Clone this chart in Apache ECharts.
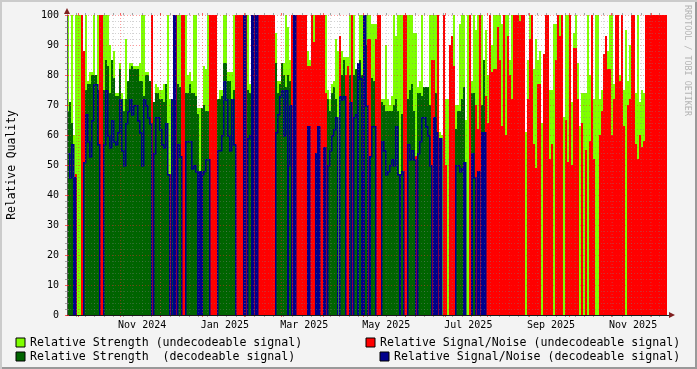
<!DOCTYPE html>
<html><head><meta charset="utf-8">
<style>html,body{margin:0;padding:0;background:#f3f3f3}#c{width:697px;height:369px}</style>
<script src="https://cdn.jsdelivr.net/npm/echarts@6/dist/echarts.min.js"></script>
</head><body><div id="c"></div>
<script>
// Each entry is one chart column (about 1.5 days per column).
const strengthUndecoded = [
100,71,100,60,100,100,100,100,88,100,
78,81,81,100,78,100,100,100,100,100,
100,90,85,88,74,74,84,74,72,92,
78,84,84,83,83,83,84,100,100,81,
81,78,100,71,77,76,75,75,77,77,
100,72,72,100,100,100,100,100,100,100,
80,81,78,100,100,69,69,69,83,82,
100,100,100,100,100,72,75,75,100,100,
81,81,81,100,100,100,100,100,100,100,
100,77,100,100,100,100,100,100,100,100,
100,100,100,100,94,78,78,84,84,100,
96,85,100,100,100,100,100,100,100,100,
88,85,100,100,100,100,100,100,100,100,
75,72,77,78,92,88,93,88,86,86,
86,100,100,100,82,84,100,100,100,100,
100,100,97,97,97,100,100,72,72,90,
72,70,73,100,93,100,100,100,100,100,
100,100,100,94,94,76,78,100,76,76,
76,100,100,100,100,100,61,60,100,72,
72,90,93,100,70,70,97,100,100,65,
100,100,78,100,95,100,100,100,85,95,
80,100,90,100,100,100,100,97,100,100,
100,85,100,100,100,100,100,100,100,61,
85,100,100,82,92,85,88,64,87,100,
100,75,75,97,97,100,100,100,66,100,
100,100,71,94,100,84,63,74,74,74,
100,80,100,72,100,100,72,75,87,93,
88,100,100,77,100,100,80,100,75,95,
78,90,100,100,74,100,71,75,74,100,
100,100,100,100,100,100,100,100,100,100];
const snUndecoded = [
0,0,0,0,47,0,0,100,88,0,
0,0,0,0,0,0,100,100,0,0,
0,0,0,0,0,0,0,0,0,0,
0,0,0,0,0,0,0,0,0,0,
0,0,100,0,0,0,0,0,0,0,
0,47,0,0,100,0,0,100,100,0,
0,0,0,0,0,0,0,0,0,0,
0,100,100,100,100,0,0,0,0,0,
0,0,0,0,100,100,100,100,0,100,
0,0,0,100,0,100,100,100,100,100,
100,100,100,100,0,0,0,0,0,0,
0,0,100,0,100,100,100,100,100,100,
83,83,100,91,100,100,100,100,100,74,
0,0,0,0,0,0,93,0,0,80,
83,0,100,0,0,0,0,0,0,0,
92,92,0,0,92,100,100,0,0,0,
0,0,0,0,0,0,47,0,100,100,
0,0,0,0,53,0,0,0,0,0,
0,0,85,85,0,100,0,0,100,50,
0,90,93,83,0,0,0,0,0,0,
0,100,0,0,70,62,100,0,0,73,
64,100,81,82,82,96,85,63,100,60,
93,80,72,100,100,100,98,100,100,0,
72,92,100,57,49,77,77,0,87,100,
100,52,57,0,85,100,93,100,0,65,
51,100,50,89,89,72,0,64,0,55,
0,58,100,52,0,0,60,68,87,93,
82,82,60,72,100,100,78,100,63,0,
70,72,100,100,57,52,60,56,58,100,
100,100,100,100,100,100,100,100,100,100];
const strengthDecoded = [
68,71,64,46,0,0,0,0,51,75,
77,77,80,80,80,75,0,0,75,85,
83,74,85,79,73,73,82,72,68,72,
78,82,83,82,82,82,78,78,73,80,
80,78,0,71,74,74,72,72,71,77,
47,0,72,0,0,77,76,0,0,74,
74,77,74,74,73,67,47,69,70,68,
68,0,0,0,0,72,72,73,84,84,
78,78,72,75,0,0,0,0,0,0,
75,74,0,0,0,0,0,0,0,0,
0,0,0,0,84,74,77,84,80,76,
80,78,0,0,0,0,0,0,0,0,
63,0,0,0,54,63,0,0,56,0,
72,68,74,76,72,0,73,80,85,0,
0,80,0,80,82,84,85,80,100,90,
0,53,79,78,0,0,0,71,70,68,
68,68,68,70,72,68,47,67,0,0,
72,75,77,68,0,74,74,73,76,76,
76,70,0,66,74,0,59,0,0,0,
0,0,0,0,62,68,68,72,76,0,
0,0,74,74,0,48,0,70,85,0,
0,0,0,0,0,0,0,0,0,0,
0,0,0,0,0,0,0,0,0,0,
0,0,0,0,0,0,0,0,0,0,
0,0,0,0,0,0,0,0,0,0,
0,0,0,0,0,0,0,0,0,0,
0,0,0,0,0,0,0,0,0,0,
0,0,0,0,0,0,0,0,0,0,
0,0,0,0,0,0,0,0,0,0,
0,0,0,0,0,0,0,0,0,0];
const snDecoded = [
54,46,57,46,0,0,0,0,51,67,
58,53,65,77,77,57,0,0,57,75,
60,56,65,58,57,61,72,55,50,64,
68,72,67,70,70,65,61,50,72,70,
66,64,0,54,66,66,62,57,56,64,
47,0,72,100,0,57,53,0,0,58,
58,58,49,50,48,48,48,47,48,52,
52,0,0,0,0,55,55,60,78,72,
60,55,72,57,0,0,0,0,100,0,
59,60,100,0,100,0,0,0,0,0,
0,0,0,0,61,67,73,75,60,75,
50,70,0,100,0,0,0,0,0,0,
63,0,0,0,54,63,0,0,56,0,
50,55,60,62,66,0,73,72,73,0,
0,71,0,66,67,84,79,48,100,70,
0,53,63,63,0,0,0,58,55,47,
48,50,52,50,63,47,47,48,0,0,
57,52,55,52,0,54,58,66,66,63,
60,50,0,66,61,0,59,0,0,0,
0,0,0,0,50,50,48,49,51,0,
0,0,54,46,0,48,0,61,61,0,
0,0,0,0,0,0,0,0,0,0,
0,0,0,0,0,0,0,0,0,0,
0,0,0,0,0,0,0,0,0,0,
0,0,0,0,0,0,0,0,0,0,
0,0,0,0,0,0,0,0,0,0,
0,0,0,0,0,0,0,0,0,0,
0,0,0,0,0,0,0,0,0,0,
0,0,0,0,0,0,0,0,0,0,
0,0,0,0,0,0,0,0,0,0];
// Columns where the decodeable S/N trace fills the whole column.
const snSolidColumns = [3,53,65,66,67,88,92,94,110,113,120,124,125,128,145,147,148,151,166,183,184,186,198,202,205,207,208];
const yTicks = [0,100];
const monthNames = ['Jan','Feb','Mar','Apr','May','Jun','Jul','Aug','Sep','Oct','Nov','Dec'];
const monthStarts = [[2024,9],[2024,10],[2024,11],[2025,0],[2025,1],[2025,2],[2025,3],[2025,4],[2025,5],[2025,6],[2025,7],[2025,8],[2025,9],[2025,10],[2025,11]];
const labelledMonths = [[2024,10],[2025,0],[2025,2],[2025,4],[2025,6],[2025,8],[2025,10]];

const FONT = 'DejaVu Sans Mono';
const DAY = 864e5;
const tStart = Date.UTC(2024,8,22,10), tEnd = tStart + 446.1*DAY;
const nCols = strengthUndecoded.length;
const monthTicks = monthStarts.map(m => Date.UTC(m[0], m[1], 1));
const labelTicks = labelledMonths.map(m => (Date.UTC(m[0], m[1], 1) + Date.UTC(m[0], m[1]+1, 1)) / 2 + 1.3*DAY);
const weekTicks = [];
for (let t = Date.UTC(2024,8,22); t < tEnd; t += 7*DAY) if (t > tStart) weekTicks.push(t);
const labelText = v => { const d = new Date(v); return monthNames[d.getUTCMonth()] + ' ' + d.getUTCFullYear(); };

const GRIDC = 'rgba(128,128,128,0.36)', WEEKC = 'rgba(128,128,128,0.3)', MGRIDC = 'rgba(255,32,32,0.45)';
const dots = c => ({type:[1,2], color:c, width:1});

const N_SU = 'Relative Strength (undecodeable signal)';
const N_RU = 'Relative Signal/Noise (undecodeable signal)';
const N_SD = 'Relative Strength  (decodeable signal)';
const N_RD = 'Relative Signal/Noise (decodeable signal)';
const C_SU = '#7fff00', C_RU = '#ff0000', C_SD = '#006400', C_RD = '#00008b';
const TRACE_W = 1.5;

const pairs = a => a.map((v,i) => [i, v]);
const column = (name, values, color, z) => ({
  name, type:'custom', data:pairs(values), encode:{x:0,y:1}, xAxisIndex:0, yAxisIndex:0,
  z, silent:true, animation:false, clip:true, itemStyle:{color},
  renderItem(params, api) {
    const i = api.value(0), v = api.value(1);
    if (!v) return null;
    const a = api.coord([i, 0]), b = api.coord([i+1, v]);
    return {type:'rect', shape:{x:a[0], y:b[1], width:b[0]-a[0], height:a[1]-b[1]}, style:{fill:color}};
  }
});
// Decodeable S/N: a stepped trace built from the scale coordinates.
const trace = (name, values, color, z) => ({
  name, type:'custom', data:pairs(values), encode:{x:0,y:1}, xAxisIndex:0, yAxisIndex:0,
  z, silent:true, animation:false, clip:true, itemStyle:{color},
  renderItem(params, api) {
    const i = api.value(0), v = api.value(1), prev = i > 0 ? values[i-1] : v;
    const a = api.coord([i, v]), b = api.coord([i+1, v]), p = api.coord([i, prev]);
    const kids = [];
    if (snSolidColumns.includes(i)) {
      const o = api.coord([i, 0]);
      kids.push({type:'rect', shape:{x:a[0], y:a[1], width:b[0]-a[0], height:o[1]-a[1]}, style:{fill:color}});
    }
    if (v > 0) kids.push({type:'rect', shape:{x:a[0], y:a[1], width:b[0]-a[0], height:TRACE_W}, style:{fill:color}});
    if (v !== prev) {
      const top = Math.min(a[1], p[1]), bot = Math.max(a[1], p[1]);
      kids.push({type:'rect', shape:{x:a[0], y:top, width:TRACE_W, height:bot-top+TRACE_W}, style:{fill:color}});
    }
    return {type:'group', children:kids};
  }
});

const timeAxis = (ticks, color, pos, extra) => Object.assign({
  type:'value', min:tStart, max:tEnd, position:pos, z:6,
  axisLine:{show:false},
  axisTick:{show:true, length:2, customValues:ticks, lineStyle:{color}},
  axisLabel:{show:false},
  splitLine:{show:false}, minorTick:{show:false}
}, extra||{});

const legend = (name, left, top) => ({
  left, top, orient:'horizontal', padding:0, itemWidth:9, itemHeight:9, itemGap:0, selectedMode:false,
  data:[{name, icon:'rect'}],
  itemStyle:{borderColor:'#000', borderWidth:1},
  textStyle:{fontFamily:FONT, fontSize:11.6, color:'#000'}
});

const chart = echarts.init(document.getElementById('c'), null, {renderer:'canvas', width:697, height:369});
chart.setOption({
  animation:false,
  backgroundColor:'#f3f3f3',
  grid:{left:67, top:15, width:600, height:300, show:true, backgroundColor:'#fff', borderWidth:0, containLabel:false, outerBoundsMode:'none'},
  legend:[legend(N_SU,15.5,336.5), legend(N_SD,15.5,350.5), legend(N_RU,365.5,336.5), legend(N_RD,379.5,350.5)],
  xAxis:[
    {type:'value', min:0, max:nCols, position:'bottom', z:7,
     axisLine:{show:true, onZero:false, lineStyle:{color:'#1a1a1a', width:1}}, axisTick:{show:false}, axisLabel:{show:false}, splitLine:{show:false}},
    timeAxis(weekTicks, 'rgba(128,128,128,0.7)', 'bottom', {splitLine:{show:true, customValues:weekTicks, lineStyle:dots(WEEKC)}}),
    timeAxis(monthTicks, 'rgba(255,32,32,0.7)', 'bottom', {
      splitLine:{show:true, customValues:monthTicks, lineStyle:dots(MGRIDC)},
      axisLabel:{show:true, customValues:labelTicks, formatter:labelText, margin:5, fontFamily:FONT, fontSize:10, color:'#000', hideOverlap:false, showMinLabel:true, showMaxLabel:true}}),
    timeAxis(weekTicks, 'rgba(128,128,128,0.7)', 'top'),
    timeAxis(monthTicks, 'rgba(255,32,32,0.7)', 'top')
  ],
  yAxis:[
    {type:'value', min:yTicks[0], max:yTicks[1], interval:10, position:'left', z:7,
     name:'Relative Quality', nameLocation:'middle', nameGap:49, nameRotate:90,
     nameTextStyle:{fontFamily:FONT, fontSize:11.4, color:'#000'},
     axisLine:{show:true, onZero:false, lineStyle:{color:'#555', width:1}},
     axisTick:{show:true, length:2, lineStyle:{color:'rgba(255,32,32,0.7)'}},
     minorTick:{show:true, splitNumber:5, length:2, lineStyle:{color:'rgba(128,128,128,0.7)'}},
     axisLabel:{fontFamily:FONT, fontSize:10, color:'#000', margin:8},
     splitLine:{show:true, lineStyle:dots(MGRIDC)},
     minorSplitLine:{show:true, lineStyle:dots(GRIDC)}},
    {type:'value', min:yTicks[0], max:yTicks[1], interval:10, position:'right', z:7,
     axisLine:{show:false}, axisLabel:{show:false}, splitLine:{show:false},
     axisTick:{show:true, length:2, lineStyle:{color:'rgba(255,32,32,0.7)'}},
     minorTick:{show:true, splitNumber:5, length:2, lineStyle:{color:'rgba(128,128,128,0.7)'}}}
  ],
  series:[
    column(N_SU, strengthUndecoded, C_SU, 2),
    column(N_RU, snUndecoded, C_RU, 3),
    column(N_SD, strengthDecoded, C_SD, 4),
    trace(N_RD, snDecoded, C_RD, 5)
  ],
  graphic:[
    {type:'rect', silent:true, z:100, shape:{x:0,y:0,width:697,height:2}, style:{fill:'#cbcbcb'}},
    {type:'rect', silent:true, z:100, shape:{x:0,y:0,width:2,height:369}, style:{fill:'#cbcbcb'}},
    {type:'rect', silent:true, z:100, shape:{x:695,y:2,width:2,height:367}, style:{fill:'#999'}},
    {type:'rect', silent:true, z:100, shape:{x:2,y:367,width:695,height:2}, style:{fill:'#999'}},
    {type:'polygon', silent:true, z:100, shape:{points:[[64,14],[70,14],[67,8]]}, style:{fill:'#7f1f1f'}},
    {type:'polygon', silent:true, z:100, shape:{points:[[669,312],[669,318],[675,315]]}, style:{fill:'#7f1f1f'}},
    {type:'rect', silent:true, z:99, shape:{x:667,y:315,width:3,height:1}, style:{fill:'#1a1a1a'}},
    {type:'text', silent:true, z:100, x:683, y:5, rotation:-Math.PI/2,
     style:{text:'RRDTOOL / TOBI OETIKER', fontFamily:FONT, fontSize:8.4, fill:'#b4b4b4', align:'left', verticalAlign:'bottom'}}
  ]
});
</script></body></html>
